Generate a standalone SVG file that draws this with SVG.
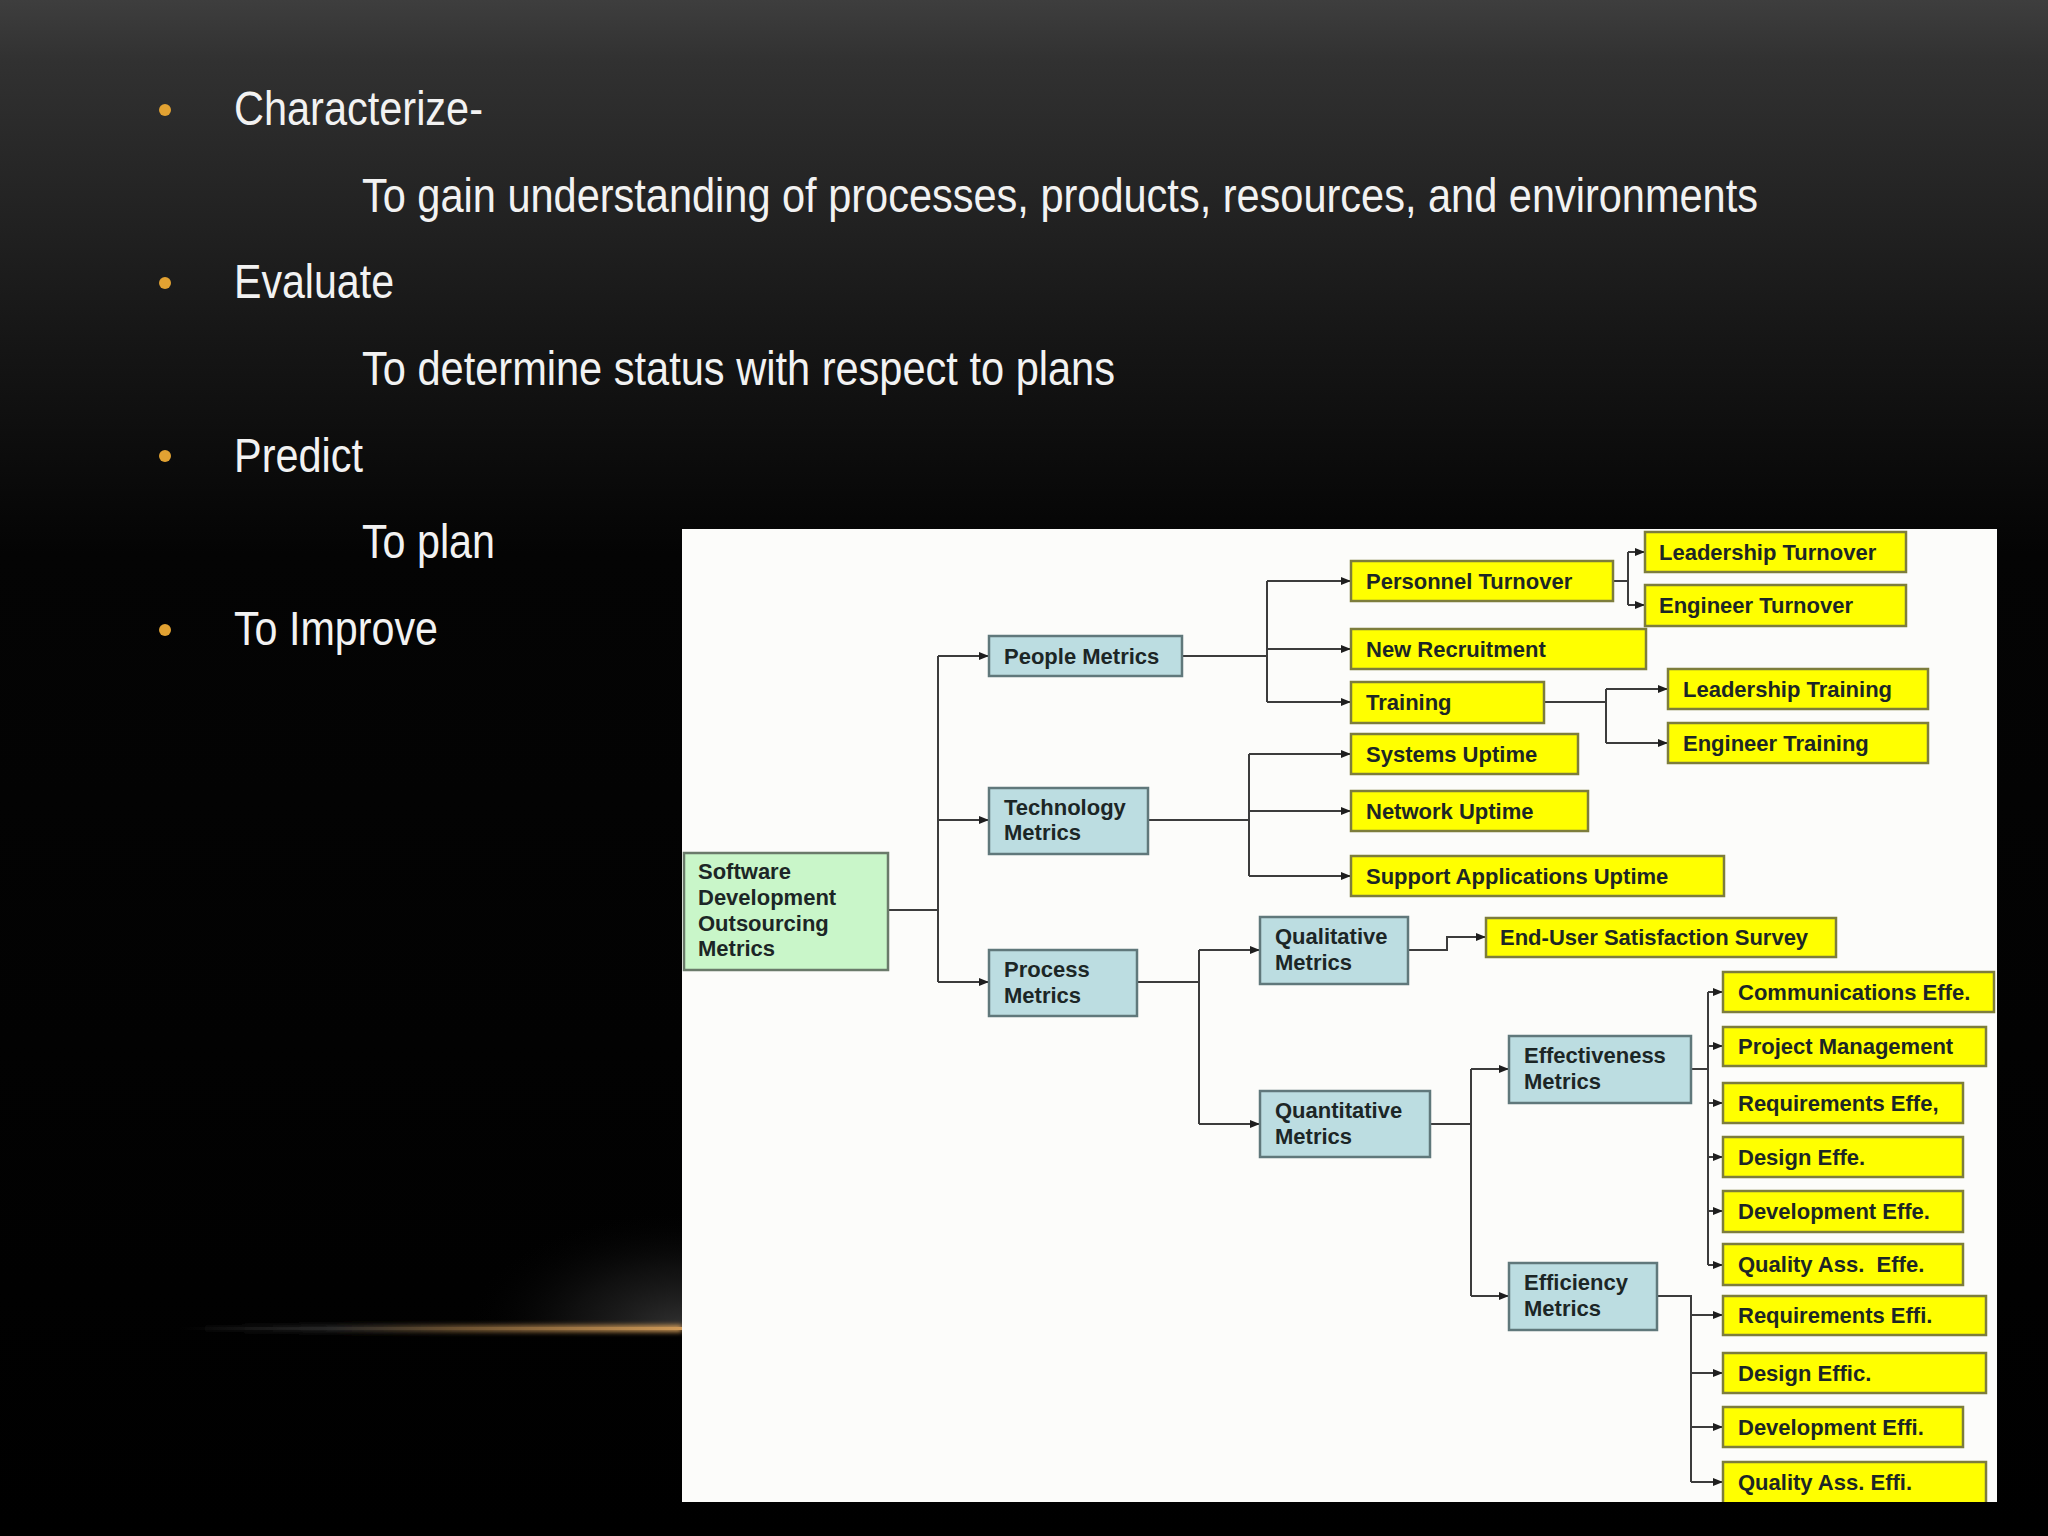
<svg xmlns="http://www.w3.org/2000/svg" width="2048" height="1536" viewBox="0 0 2048 1536">
<defs>
<linearGradient id="bg" x1="0" y1="0" x2="0" y2="1536" gradientUnits="userSpaceOnUse">
<stop offset="0" stop-color="#3e3e3e"/>
<stop offset="0.04" stop-color="#313131"/>
<stop offset="0.22" stop-color="#161616"/>
<stop offset="0.36" stop-color="#040404"/>
<stop offset="1" stop-color="#000000"/>
</linearGradient>
<linearGradient id="streak" x1="180" y1="0" x2="682" y2="0" gradientUnits="userSpaceOnUse">
<stop offset="0" stop-color="#202020" stop-opacity="0"/>
<stop offset="0.3" stop-color="#2a2a2a" stop-opacity="0.8"/>
<stop offset="0.55" stop-color="#6a5030"/>
<stop offset="1" stop-color="#d09a58"/>
</linearGradient>
<radialGradient id="haze" cx="682" cy="1328" r="220" gradientUnits="userSpaceOnUse" gradientTransform="translate(682 1328) scale(1 0.55) translate(-682 -1328)">
<stop offset="0" stop-color="#363636" stop-opacity="0.9"/>
<stop offset="0.5" stop-color="#1a1a1a" stop-opacity="0.6"/>
<stop offset="1" stop-color="#000000" stop-opacity="0"/>
</radialGradient>
<filter id="blur" x="-10%" y="-300%" width="120%" height="700%">
<feGaussianBlur stdDeviation="2.5"/>
</filter>
<clipPath id="hazeClip"><rect x="400" y="1180" width="282" height="147"/></clipPath>
<clipPath id="panelClip"><rect x="682" y="529" width="1315" height="973"/></clipPath>
<marker id="arr" viewBox="0 0 10 8" refX="10" refY="4" markerWidth="10" markerHeight="8" markerUnits="userSpaceOnUse" orient="auto">
<path d="M0,0 L10,4 L0,8 z" fill="#1e1e1e"/>
</marker>
</defs>
<style>
.slide{font-family:"Liberation Sans",Arial,sans-serif;font-size:48px;fill:#f2f2f2;}
.bul{fill:#e2a232;}
.box rect{stroke-width:2.5;}
.blue rect{fill:#bcdde1;stroke:#60787b;}
.green rect{fill:#c9f6c9;stroke:#6a7a6a;}
.yel rect{fill:#ffff00;stroke:#7d7d3c;}
.box text{font-family:"Liberation Sans",Arial,sans-serif;font-weight:bold;font-size:22px;fill:#1c2626;}
.con path{fill:none;stroke:#3c3c3c;stroke-width:2;}
.con path.a{marker-end:url(#arr);}
</style>

<rect x="0" y="0" width="2048" height="1536" fill="url(#bg)"/>
<ellipse cx="682" cy="1328" rx="220" ry="121" fill="url(#haze)" clip-path="url(#hazeClip)"/>
<rect x="180" y="1325" width="502" height="7" fill="url(#streak)" filter="url(#blur)"/>
<rect x="180" y="1327" width="502" height="3" fill="url(#streak)"/>

<g id="bullets">
<circle class="bul" cx="165" cy="110" r="6"/>
<circle class="bul" cx="165" cy="283" r="6"/>
<circle class="bul" cx="165" cy="456" r="6"/>
<circle class="bul" cx="165" cy="630" r="6"/>
</g>
<g id="slide-text">
<text class="slide" x="234" y="125" textLength="249" lengthAdjust="spacingAndGlyphs">Characterize-</text>
<text class="slide" x="362" y="212" textLength="1396" lengthAdjust="spacingAndGlyphs">To gain understanding of processes, products, resources, and environments</text>
<text class="slide" x="234" y="298" textLength="160" lengthAdjust="spacingAndGlyphs">Evaluate</text>
<text class="slide" x="362" y="385" textLength="753" lengthAdjust="spacingAndGlyphs">To determine status with respect to plans</text>
<text class="slide" x="234" y="472" textLength="129" lengthAdjust="spacingAndGlyphs">Predict</text>
<text class="slide" x="362" y="558" textLength="133" lengthAdjust="spacingAndGlyphs">To plan</text>
<text class="slide" x="234" y="645" textLength="204" lengthAdjust="spacingAndGlyphs">To Improve</text>
</g>

<rect id="panel" x="682" y="529" width="1315" height="973" fill="#fcfcfa"/>

<g clip-path="url(#panelClip)">
<g id="connectors" class="con">
<path d="M888,910 H938"/>
<path d="M938,656 V982"/>
<path class="a" d="M938,656 H989"/>
<path class="a" d="M938,820 H989"/>
<path class="a" d="M938,982 H989"/>

<path d="M1182,656 H1267"/>
<path d="M1267,581 V702"/>
<path class="a" d="M1267,581 H1351"/>
<path class="a" d="M1267,649 H1351"/>
<path class="a" d="M1267,702 H1351"/>

<path d="M1613,581 H1628"/>
<path d="M1628,552 V605"/>
<path class="a" d="M1628,552 H1645"/>
<path class="a" d="M1628,605 H1645"/>

<path d="M1544,702 H1606"/>
<path d="M1606,689 V743"/>
<path class="a" d="M1606,689 H1668"/>
<path class="a" d="M1606,743 H1668"/>

<path d="M1148,820 H1249"/>
<path d="M1249,754 V876"/>
<path class="a" d="M1249,754 H1351"/>
<path class="a" d="M1249,811 H1351"/>
<path class="a" d="M1249,876 H1351"/>

<path d="M1137,982 H1199"/>
<path d="M1199,950 V1124"/>
<path class="a" d="M1199,950 H1260"/>
<path class="a" d="M1199,1124 H1260"/>

<path class="a" d="M1408,950 H1447 V937 H1486"/>

<path d="M1430,1124 H1471"/>
<path d="M1471,1069 V1296"/>
<path class="a" d="M1471,1069 H1509"/>
<path class="a" d="M1471,1296 H1509"/>

<path d="M1691,1069 H1708"/>
<path d="M1708,992 V1265"/>
<path class="a" d="M1708,992 H1723"/>
<path class="a" d="M1708,1046 H1723"/>
<path class="a" d="M1708,1103 H1723"/>
<path class="a" d="M1708,1157 H1723"/>
<path class="a" d="M1708,1211 H1723"/>
<path class="a" d="M1708,1265 H1723"/>

<path d="M1657,1296 H1691 V1482"/>
<path class="a" d="M1691,1315 H1723"/>
<path class="a" d="M1691,1373 H1723"/>
<path class="a" d="M1691,1427 H1723"/>
<path class="a" d="M1691,1482 H1723"/>
</g>

<g id="root" class="box green"><rect x="684" y="853" width="204" height="117"/>
<text x="698" y="879">Software</text><text x="698" y="905">Development</text><text x="698" y="931">Outsourcing</text><text x="698" y="956">Metrics</text></g>

<g id="people" class="box blue"><rect x="989" y="636" width="193" height="40"/><text x="1004" y="664">People Metrics</text></g>
<g id="technology" class="box blue"><rect x="989" y="788" width="159" height="66"/><text x="1004" y="815">Technology</text><text x="1004" y="840">Metrics</text></g>
<g id="process" class="box blue"><rect x="989" y="950" width="148" height="66"/><text x="1004" y="977">Process</text><text x="1004" y="1003">Metrics</text></g>

<g id="personnel" class="box yel"><rect x="1351" y="561" width="262" height="40"/><text x="1366" y="589">Personnel Turnover</text></g>
<g id="leadTurnover" class="box yel"><rect x="1645" y="532" width="261" height="40"/><text x="1659" y="560">Leadership Turnover</text></g>
<g id="engTurnover" class="box yel"><rect x="1645" y="585" width="261" height="41"/><text x="1659" y="613">Engineer Turnover</text></g>
<g id="newRecruitment" class="box yel"><rect x="1351" y="629" width="295" height="40"/><text x="1366" y="657">New Recruitment</text></g>
<g id="training" class="box yel"><rect x="1351" y="682" width="193" height="41"/><text x="1366" y="710">Training</text></g>
<g id="leadTraining" class="box yel"><rect x="1668" y="669" width="260" height="40"/><text x="1683" y="697">Leadership Training</text></g>
<g id="engTraining" class="box yel"><rect x="1668" y="723" width="260" height="40"/><text x="1683" y="751">Engineer Training</text></g>
<g id="systems" class="box yel"><rect x="1351" y="734" width="227" height="40"/><text x="1366" y="762">Systems Uptime</text></g>
<g id="network" class="box yel"><rect x="1351" y="791" width="237" height="40"/><text x="1366" y="819">Network Uptime</text></g>
<g id="support" class="box yel"><rect x="1351" y="856" width="373" height="40"/><text x="1366" y="884">Support Applications Uptime</text></g>

<g id="qualitative" class="box blue"><rect x="1260" y="917" width="148" height="67"/><text x="1275" y="944">Qualitative</text><text x="1275" y="970">Metrics</text></g>
<g id="endUser" class="box yel"><rect x="1486" y="918" width="350" height="39"/><text x="1500" y="945">End-User Satisfaction Survey</text></g>
<g id="quantitative" class="box blue"><rect x="1260" y="1091" width="170" height="66"/><text x="1275" y="1118">Quantitative</text><text x="1275" y="1144">Metrics</text></g>
<g id="effectiveness" class="box blue"><rect x="1509" y="1036" width="182" height="67"/><text x="1524" y="1063">Effectiveness</text><text x="1524" y="1089">Metrics</text></g>
<g id="efficiency" class="box blue"><rect x="1509" y="1263" width="148" height="67"/><text x="1524" y="1290">Efficiency</text><text x="1524" y="1316">Metrics</text></g>

<g id="commEffe" class="box yel"><rect x="1723" y="972" width="271" height="40"/><text x="1738" y="1000">Communications Effe.</text></g>
<g id="pm" class="box yel"><rect x="1723" y="1027" width="263" height="39"/><text x="1738" y="1054">Project Management</text></g>
<g id="reqEffe" class="box yel"><rect x="1723" y="1083" width="240" height="40"/><text x="1738" y="1111">Requirements Effe,</text></g>
<g id="designEffe" class="box yel"><rect x="1723" y="1137" width="240" height="40"/><text x="1738" y="1165">Design Effe.</text></g>
<g id="devEffe" class="box yel"><rect x="1723" y="1191" width="240" height="41"/><text x="1738" y="1219">Development Effe.</text></g>
<g id="qaEffe" class="box yel"><rect x="1723" y="1244" width="240" height="41"/><text x="1738" y="1272" xml:space="preserve">Quality Ass.  Effe.</text></g>
<g id="reqEffi" class="box yel"><rect x="1723" y="1296" width="263" height="39"/><text x="1738" y="1323">Requirements Effi.</text></g>
<g id="designEffic" class="box yel"><rect x="1723" y="1353" width="263" height="40"/><text x="1738" y="1381">Design Effic.</text></g>
<g id="devEffi" class="box yel"><rect x="1723" y="1407" width="240" height="40"/><text x="1738" y="1435">Development Effi.</text></g>
<g id="qaEffi" class="box yel"><rect x="1723" y="1462" width="263" height="46"/><text x="1738" y="1490">Quality Ass. Effi.</text></g>
</g>
</svg>
